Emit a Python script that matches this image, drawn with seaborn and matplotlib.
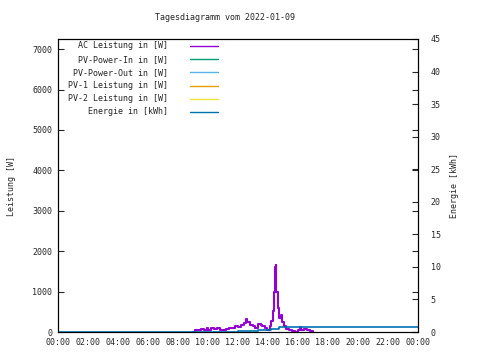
import pandas as pd
import matplotlib
matplotlib.use("Agg")
import matplotlib.pyplot as plt
import seaborn as sns

# AC Leistung [W] over the day (hours)
ac_stunden = [9.0, 9.1, 9.3, 9.5, 9.7, 9.9, 10.0, 10.2, 10.4, 10.6, 10.8, 11.0,
              11.2, 11.4, 11.6, 11.8, 12.0, 12.2, 12.4, 12.5, 12.6, 12.8, 13.0,
              13.1, 13.3, 13.5, 13.6, 13.8, 13.9, 14.0, 14.1, 14.2, 14.3, 14.4,
              14.45, 14.5, 14.55, 14.65, 14.75, 14.85, 14.95, 15.05, 15.2, 15.4,
              15.6, 15.8, 16.0, 16.1, 16.2, 16.4, 16.6, 16.8, 17.0]
ac_watt = [0, 40, 60, 80, 50, 90, 60, 100, 70, 90, 60, 50,
           80, 110, 90, 150, 120, 170, 220, 330, 250, 180, 160,
           90, 200, 170, 150, 100, 40, 60, 150, 280, 520, 1000,
           1620, 1650, 1000, 600, 350, 420, 250, 150, 80, 60,
           20, 10, 50, 120, 60, 80, 40, 30, 0]

# Energie [kWh]
energie_stunden = [0.0, 10.3, 11.0, 12.0, 13.3, 14.2, 14.7, 15.0, 24.0]
energie_kwh = [0.0, 0.0, 0.05, 0.15, 0.25, 0.4, 0.7, 0.8, 0.8]

xtick_labels = ["00:00", "02:00", "04:00", "06:00", "08:00", "10:00", "12:00",
                "14:00", "16:00", "18:00", "20:00", "22:00", "00:00"]

legend_labels = ["AC Leistung in [W]", "PV-Power-In in [W]", "PV-Power-Out in [W]",
                 "PV-1 Leistung in [W]", "PV-2 Leistung in [W]", "Energie in [kWh]"]
farben = ["#9400d3", "#009e73", "#56b4e9", "#e69f00", "#f0e442", "#0072b2"]

df_ac = pd.DataFrame({"t": ac_stunden, "w": ac_watt})
df_en = pd.DataFrame({"t": energie_stunden, "e": energie_kwh})

sns.set_style("white")
plt.rcParams['font.family'] = ['DejaVu Sans Mono']
plt.rcParams['font.size'] = 6

fig = plt.figure(figsize=(4.8, 3.6), dpi=100)
ax = fig.add_axes([58/480, 1 - 332/360, 360/480, 293/360])
ax2 = ax.twinx()

sns.lineplot(data=df_ac, x="t", y="w", ax=ax, color=farben[0], linewidth=1.5,
             drawstyle="steps-post")
sns.lineplot(data=df_en, x="t", y="e", ax=ax2, color=farben[5], linewidth=1.2,
             drawstyle="steps-post")

ax.set_xlim(0, 24)
ax.set_ylim(0, 7250)
ax2.set_ylim(0, 45)
ax.set_xticks(range(0, 25, 2))
ax.set_xticklabels(xtick_labels)
ax.set_yticks(range(0, 7001, 1000))
ax2.set_yticks(range(0, 46, 5))
ax.tick_params(direction='in', length=4, width=0.8, right=True, pad=4, labelsize=6)
ax2.tick_params(direction='in', length=4, width=0.8, pad=9, labelsize=6)
ax.set_xlabel("")
ax.set_ylabel("Leistung [W]", fontsize=6, labelpad=12)
ax2.set_ylabel("Energie [kWh]", fontsize=6, labelpad=7)
for a in (ax, ax2):
    for s in a.spines.values():
        s.set_color("black")
        s.set_linewidth(0.8)

# gnuplot-style key: right-aligned text, sample line to the right
for i, (lab, col) in enumerate(zip(legend_labels, farben)):
    y = 1 - (46 + i * 13.2 - 39) / 293
    ax.text((168 - 58) / 360, y, lab, transform=ax.transAxes, ha='right',
            va='center', fontsize=6)
    ax.plot([(190 - 58) / 360, (218 - 58) / 360], [y, y], transform=ax.transAxes,
            color=col, linewidth=1.0)

fig.text(225 / 480, 1 - 18 / 360, "Tagesdiagramm vom 2022-01-09", ha='center',
         va='center', fontsize=6)

fig.savefig("out.png", dpi=100)
